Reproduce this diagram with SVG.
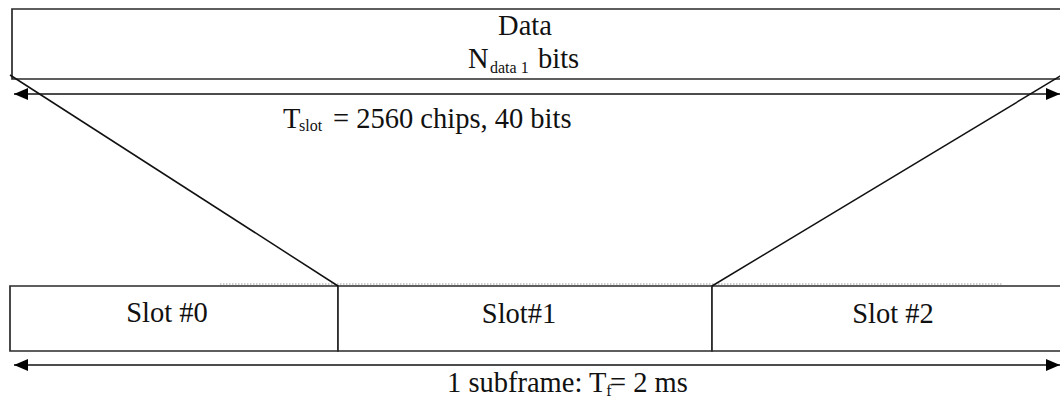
<svg xmlns="http://www.w3.org/2000/svg" width="1060" height="401" viewBox="0 0 1060 401">
  <defs>
    <style>
      .box { fill: #ffffff; stroke: #2a2a2a; stroke-width: 1.7; }
      .edge { fill: none; stroke: #111111; stroke-width: 1.5; }
      .dim { fill: none; stroke: #111111; stroke-width: 1.5; marker-start: url(#arrowL); marker-end: url(#arrowR); }
      .dot { fill: none; stroke: #9a9a9a; stroke-width: 1; stroke-dasharray: 1.5 1.5; }
      .t { font-family: "Liberation Serif", "Times New Roman", serif; font-size: 28.5px; fill: #111111; }
      .sub { font-size: 16px; }
    </style>
    <marker id="arrowR" viewBox="0 0 14 12" refX="14" refY="6" markerWidth="14" markerHeight="12" markerUnits="userSpaceOnUse" orient="auto">
      <path d="M0,0 L14,6 L0,12 Z" fill="#000"/>
    </marker>
    <marker id="arrowL" viewBox="0 0 14 12" refX="0" refY="6" markerWidth="14" markerHeight="12" markerUnits="userSpaceOnUse" orient="auto">
      <path d="M14,0 L0,6 L14,12 Z" fill="#000"/>
    </marker>
  </defs>
  <rect x="0" y="0" width="1060" height="401" fill="#ffffff"/>

  <g id="data-box">
    <path class="box" d="M1064,9 H12 V79 H1064"/>
    <text class="t" x="525" y="35" text-anchor="middle">Data</text>
    <text class="t" x="468" y="68">N<tspan class="sub" x="490" dy="5">data 1</tspan><tspan x="538" dy="-5">bits</tspan></text>
  </g>

  <g id="slot0">
    <path class="box" d="M338,286 H10 V351 H338 Z"/>
    <text class="t" x="167" y="322" text-anchor="middle">Slot #0</text>
  </g>
  <g id="slot1">
    <path class="box" d="M338,286 H712 V351 H338 Z"/>
    <text class="t" x="519" y="323" text-anchor="middle">Slot#1</text>
  </g>
  <g id="slot2">
    <path class="box" d="M712,286 H1064 V351 H712 Z"/>
    <text class="t" x="893" y="323" text-anchor="middle">Slot #2</text>
  </g>

  <g id="connectors">
    <line class="dot" x1="220" y1="284" x2="1002" y2="284"/>
    <line class="edge" x1="10" y1="75" x2="338" y2="286"/>
    <line class="edge" x1="1062" y1="75" x2="712" y2="286"/>
    <line class="dim" x1="14" y1="94" x2="1060" y2="94"/>
    <line class="dim" x1="14" y1="365" x2="1060" y2="365"/>
  </g>

  <g id="labels">
    <text class="t" x="283" y="128">T<tspan class="sub" x="299" dy="3">slot</tspan><tspan x="333" dy="-3">= 2560 chips, 40 bits</tspan></text>
    <text class="t" x="447" y="392">1 subframe: T<tspan class="sub" dy="4">f</tspan><tspan x="610" dy="-4">= 2 ms</tspan></text>
  </g>
</svg>
